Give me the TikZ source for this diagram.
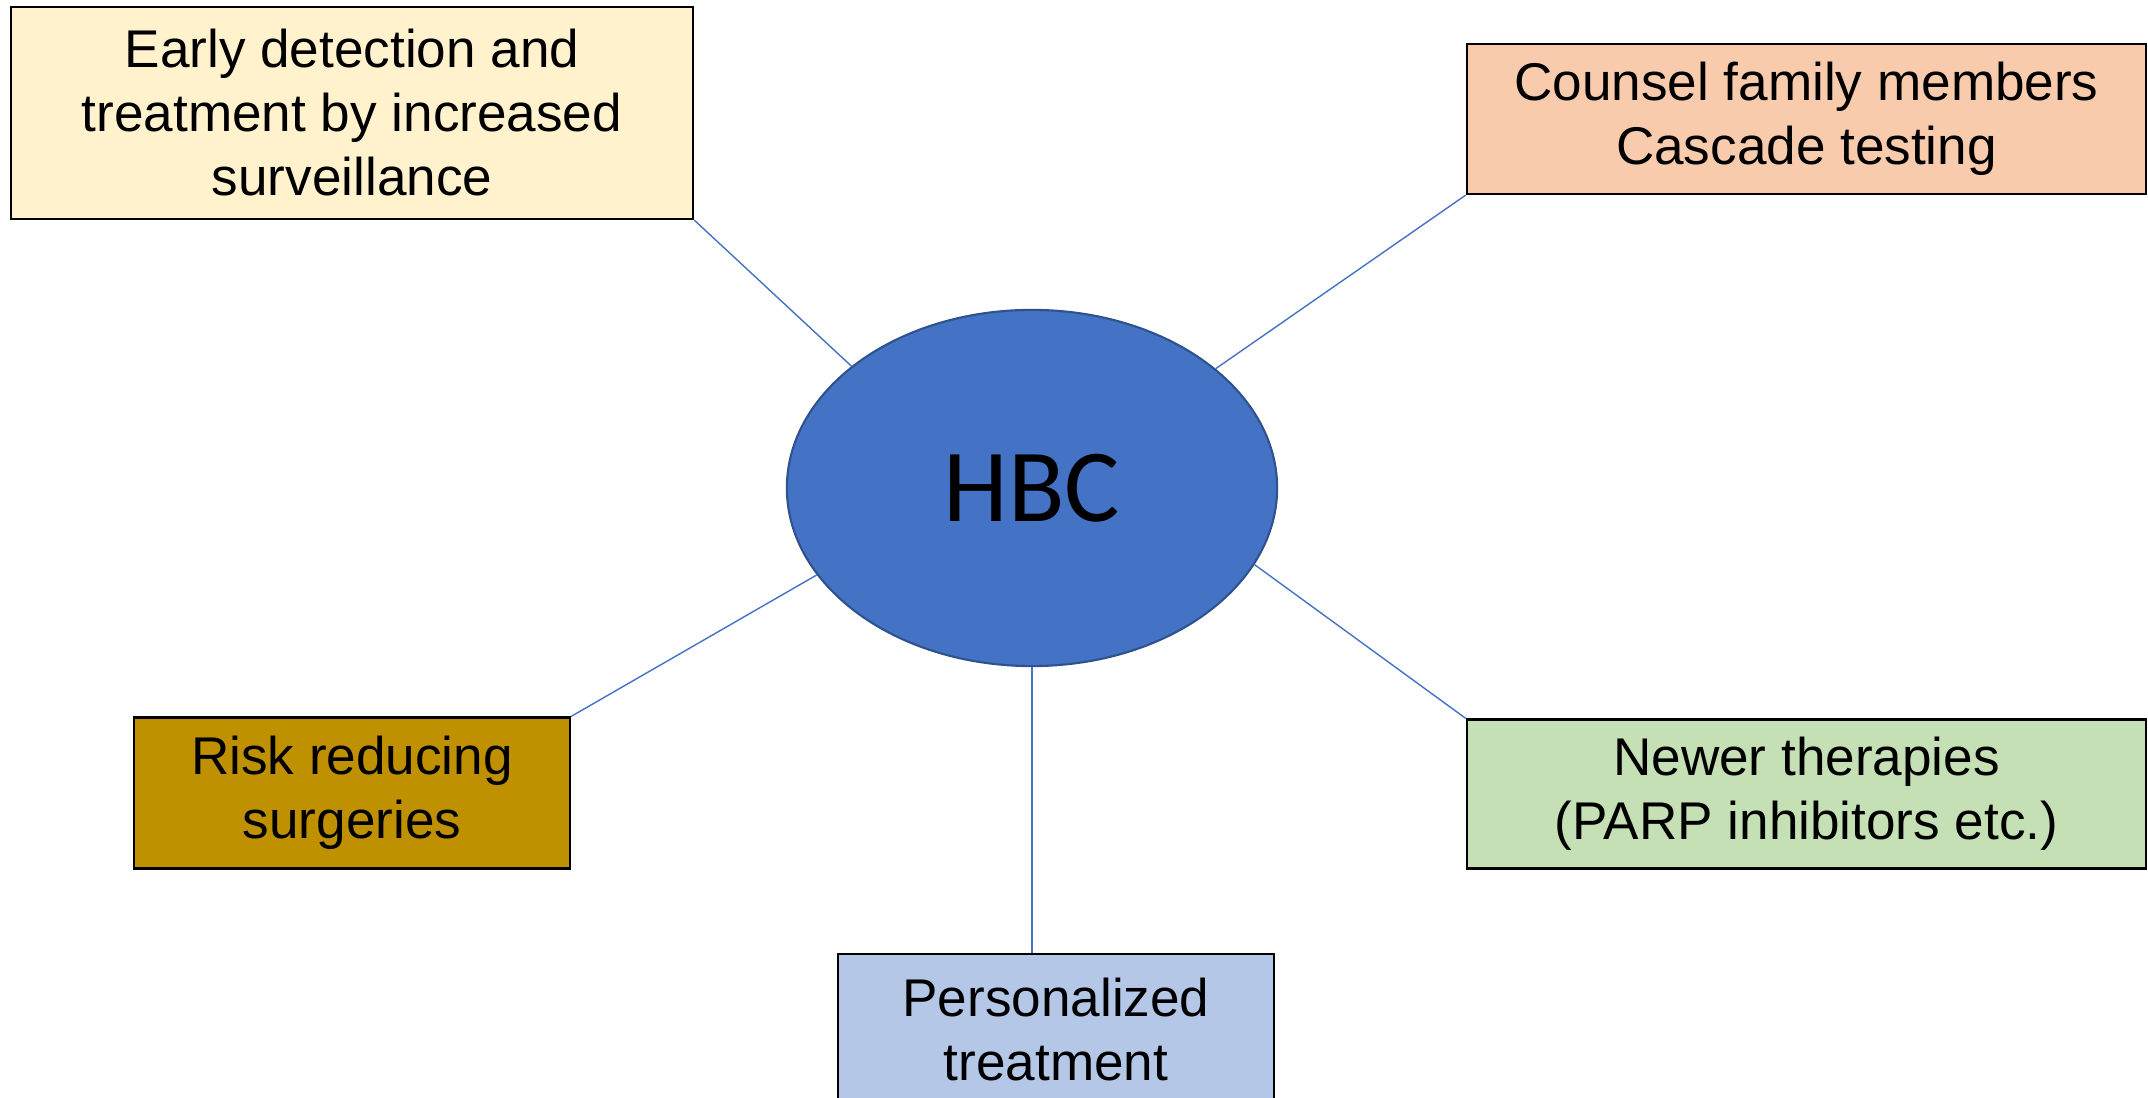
\documentclass[tikz,border=0pt]{standalone}
\usepackage{fontspec}
\setmainfont{Liberation Sans}
\newfontfamily\calibri{Carlito}
\usetikzlibrary{shapes.geometric}
\definecolor{YELLOW_L}{HTML}{FFF2CC}
\definecolor{ORANGE_L}{HTML}{F8CBAD}
\definecolor{GOLD_D}{HTML}{BF9000}
\definecolor{GREEN_L}{HTML}{C5E0B4}
\definecolor{BLUE_L}{HTML}{B4C7E7}
\definecolor{BLUE_C}{HTML}{4472C4}
\definecolor{BLUE_E}{HTML}{2F528F}
\tikzset{
	every node/.style = {font=\fontsize{15.1}{18.2}\selectfont},
	box/.style = {rectangle, draw=black, line width=0.6pt, align=center, inner sep=0pt},
	link/.style = {draw=BLUE_C, line width=0.4pt}
}

\begin{document}
\begin{tikzpicture}[x=0.01cm, y=-0.01cm]
		\clip (0,0) rectangle (2148,1098);
		% center
		\node[ellipse, fill=BLUE_C, draw=BLUE_E, line width=0.6pt, inner sep=0pt,
		      minimum width=4.9cm, minimum height=3.56cm,
		      font=\calibri\fontsize{29.5}{34}\selectfont] (hbc) at (1032,488) {HBC};
		% boxes
		\node[box, fill=YELLOW_L, minimum width=6.82cm, minimum height=2.12cm] (early) at (352,113)
		      {Early detection and\\treatment by increased\\surveillance};
		\node[box, fill=ORANGE_L, minimum width=6.79cm, minimum height=1.5cm] (counsel) at (1806.5,119)
		      {Counsel family members\\Cascade testing};
		\node[box, fill=GOLD_D, minimum width=4.36cm, minimum height=1.51cm] (risk) at (352,793)
		      {Risk reducing\\surgeries};
		\node[box, fill=GREEN_L, minimum width=6.79cm, minimum height=1.49cm] (newer) at (1806.5,794)
		      {Newer therapies\\(PARP inhibitors etc.)};
		\node[box, fill=BLUE_L, minimum width=4.36cm, minimum height=1.51cm] (pers) at (1056,1029.5)
		      {Personalized\\treatment};
		% connectors
		\draw[link] (hbc.146) -- (early.south east);
		\draw[link] (hbc.33) -- (counsel.south west);
		\draw[link] (hbc.202) -- (risk.north east);
		\draw[link] (hbc.341) -- (newer.north west);
		\draw[link] (hbc.south) -- (hbc.south |- pers.north);
	\end{tikzpicture}
\end{document}
